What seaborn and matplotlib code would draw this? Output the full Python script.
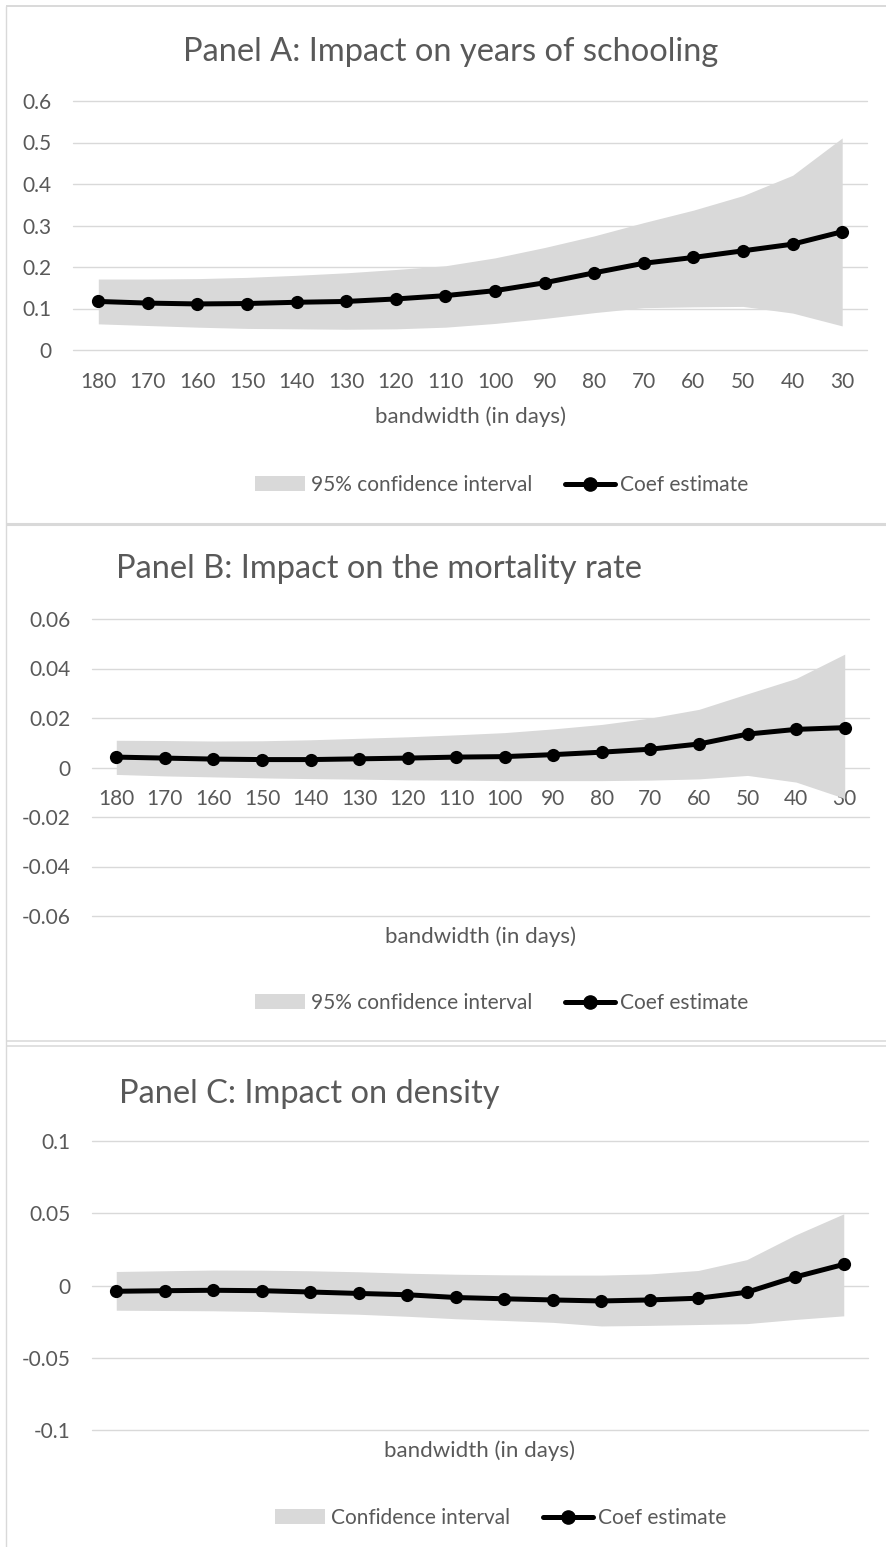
import numpy as np
import matplotlib
matplotlib.use("Agg")
import matplotlib.pyplot as plt
from matplotlib.lines import Line2D
from matplotlib.patches import Patch
import seaborn as sns

# ---- data -------------------------------------------------------------
bandwidth = [180, 170, 160, 150, 140, 130, 120, 110, 100, 90, 80, 70, 60, 50, 40, 30]

schooling_coef = [0.117, 0.113, 0.111, 0.112, 0.115, 0.117, 0.123, 0.131,
                  0.143, 0.162, 0.186, 0.209, 0.223, 0.239, 0.255, 0.285]
schooling_hi = [0.171, 0.171, 0.172, 0.175, 0.180, 0.186, 0.194, 0.203,
                0.222, 0.247, 0.275, 0.307, 0.337, 0.372, 0.421, 0.511]
schooling_lo = [0.063, 0.059, 0.055, 0.052, 0.051, 0.050, 0.051, 0.055,
                0.064, 0.076, 0.090, 0.102, 0.104, 0.105, 0.089, 0.058]

mortality_coef = [0.0042, 0.0038, 0.0034, 0.0032, 0.0032, 0.0035, 0.0038, 0.0042,
                  0.0044, 0.0052, 0.0062, 0.0074, 0.0095, 0.0135, 0.0154, 0.0161]
mortality_hi = [0.0110, 0.0109, 0.0107, 0.0108, 0.0112, 0.0118, 0.0124, 0.0132,
                0.0141, 0.0156, 0.0174, 0.0200, 0.0235, 0.0298, 0.0360, 0.0458]
mortality_lo = [-0.0028, -0.0034, -0.0038, -0.0042, -0.0045, -0.0047, -0.0050, -0.0051,
                -0.0053, -0.0053, -0.0053, -0.0051, -0.0046, -0.0032, -0.0059, -0.0125]

density_coef = [-0.0040, -0.0036, -0.0033, -0.0036, -0.0045, -0.0055, -0.0064, -0.0083,
                -0.0092, -0.0100, -0.0107, -0.0100, -0.0088, -0.0047, 0.0059, 0.0146]
density_hi = [0.0097, 0.0102, 0.0107, 0.0106, 0.0102, 0.0095, 0.0085, 0.0078,
              0.0074, 0.0072, 0.0072, 0.0080, 0.0104, 0.0179, 0.0349, 0.0496]
density_lo = [-0.0171, -0.0173, -0.0175, -0.0180, -0.0190, -0.0199, -0.0213, -0.0230,
              -0.0242, -0.0255, -0.0280, -0.0276, -0.0270, -0.0264, -0.0235, -0.0210]

schooling_yticks = [0, 0.1, 0.2, 0.3, 0.4, 0.5, 0.6]
schooling_ylabels = ["0", "0.1", "0.2", "0.3", "0.4", "0.5", "0.6"]
mortality_yticks = [-0.06, -0.04, -0.02, 0, 0.02, 0.04, 0.06]
mortality_ylabels = ["-0.06", "-0.04", "-0.02", "0", "0.02", "0.04", "0.06"]
density_yticks = [-0.1, -0.05, 0, 0.05, 0.1]
density_ylabels = ["-0.1", "-0.05", "0", "0.05", "0.1"]

titles = ["Panel A: Impact on years of schooling",
          "Panel B: Impact on the mortality rate",
          "Panel C: Impact on density"]
xlabel = "bandwidth (in days)"
ci_labels = ["95% confidence interval", "95% confidence interval", "Confidence interval"]
coef_label = "Coef estimate"

# ---- style ------------------------------------------------------------
sns.set_theme(style="white")
plt.rcParams["font.family"] = ["Lato", "DejaVu Sans"]

W, H = 887, 1547
TEXT = "#595959"
GRID = "#D9D9D9"
FILL = "#D9D9D9"
TICK_FS = 15
LABEL_FS = 16
TITLE_FS = 23.5
LINE_W = 3.6
MARKER = 9.5


def fx(x):
    return x / W


def fy(y):
    return 1 - y / H


def add_axes(left, right, top, bottom):
    return fig.add_axes([fx(left), fy(bottom), (right - left) / W, (bottom - top) / H])


fig = plt.figure(figsize=(W / 100, H / 100), dpi=100)
fig.patch.set_facecolor("white")

# chart frames
frame_kw = dict(color=GRID, transform=fig.transFigure, solid_capstyle="butt")
fig.add_artist(Line2D([fx(6), 1], [fy(6), fy(6)], lw=1.4, **frame_kw))
fig.add_artist(Line2D([fx(6), 1], [fy(523.5), fy(523.5)], lw=2.2, **frame_kw))
fig.add_artist(Line2D([fx(6), 1], [fy(1041), fy(1041)], lw=1.1, **frame_kw))
fig.add_artist(Line2D([fx(6), 1], [fy(1045.5), fy(1045.5)], lw=1.1, **frame_kw))
fig.add_artist(Line2D([fx(6), fx(6)], [fy(6), 0], lw=1.0, **frame_kw))

panels = [
    dict(box=(73.5, 867, 101, 350), coef=schooling_coef, lo=schooling_lo, hi=schooling_hi,
         yticks=schooling_yticks, ylabels=schooling_ylabels, xticks=True, zero_axis=False,
         title_xy=(451, 52), title_ha="center", xlabel_y=417, legend_xy=(502, 485)),
    dict(box=(92, 869, 619, 916), coef=mortality_coef, lo=mortality_lo, hi=mortality_hi,
         yticks=mortality_yticks, ylabels=mortality_ylabels, xticks=True, zero_axis=True,
         title_xy=(116, 569), title_ha="left", xlabel_y=937, legend_xy=(502, 1003)),
    dict(box=(92, 868, 1141, 1430), coef=density_coef, lo=density_lo, hi=density_hi,
         yticks=density_yticks, ylabels=density_ylabels, xticks=False, zero_axis=False,
         title_xy=(119, 1094), title_ha="left", xlabel_y=1451, legend_xy=(501, 1518)),
]

pos = np.arange(len(bandwidth))

for i, p in enumerate(panels):
    left, right, top, bottom = p["box"]
    ax = add_axes(left, right, top, bottom)
    ax.set_facecolor("none")
    ax.set_axisbelow(True)

    ax.fill_between(pos, p["lo"], p["hi"], color=FILL, lw=0, zorder=1)
    sns.lineplot(x=pos, y=p["coef"], ax=ax, color="black", lw=LINE_W, marker="o",
                 markersize=MARKER, markeredgecolor="black", markeredgewidth=0, zorder=3)

    ax.set_xlim(-0.5, len(bandwidth) - 0.5)
    ax.set_ylim(p["yticks"][0], p["yticks"][-1])
    ax.set_yticks(p["yticks"])
    ax.set_yticklabels(p["ylabels"])
    ax.grid(axis="y", color=GRID, lw=1.0)
    ax.grid(axis="x", visible=False)
    for gl in ax.get_ygridlines():
        gl.set_clip_on(False)
    for s in ax.spines.values():
        s.set_visible(False)
    if p["zero_axis"]:
        ax.spines["bottom"].set_position(("data", 0))

    ax.set_xticks(pos)
    if p["xticks"]:
        ax.set_xticklabels([str(b) for b in bandwidth])
    else:
        ax.set_xticklabels([])
    ax.tick_params(axis="x", length=0, pad=15.5, labelsize=TICK_FS, labelcolor=TEXT)
    ax.tick_params(axis="y", length=0, pad=15.5, labelsize=TICK_FS, labelcolor=TEXT)

    ax.set_xlabel(xlabel, fontsize=LABEL_FS, color=TEXT)
    ax.xaxis.set_label_coords(fx((left + right) / 2), fy(p["xlabel_y"]),
                              transform=fig.transFigure)
    ax.xaxis.label.set_va("center")
    ax.set_ylabel("")

    tx, ty = p["title_xy"]
    ax.text(fx(tx), fy(ty), titles[i], transform=fig.transFigure, fontsize=TITLE_FS,
            color=TEXT, ha=p["title_ha"], va="center")

    handles = [Patch(facecolor=FILL, edgecolor="none"),
               Line2D([], [], color="black", lw=LINE_W, marker="o", markersize=MARKER)]
    lx, ly = p["legend_xy"]
    leg = ax.legend(handles, [ci_labels[i], coef_label], loc="center",
                    bbox_to_anchor=(fx(lx), fy(ly)), bbox_transform=fig.transFigure,
                    ncol=2, frameon=False, fontsize=TICK_FS, handlelength=2.4,
                    handleheight=0.75, handletextpad=0.25, columnspacing=1.6,
                    borderpad=0, borderaxespad=0)
    for t in leg.get_texts():
        t.set_color(TEXT)

fig.savefig("out.png", dpi=100, facecolor="white")
